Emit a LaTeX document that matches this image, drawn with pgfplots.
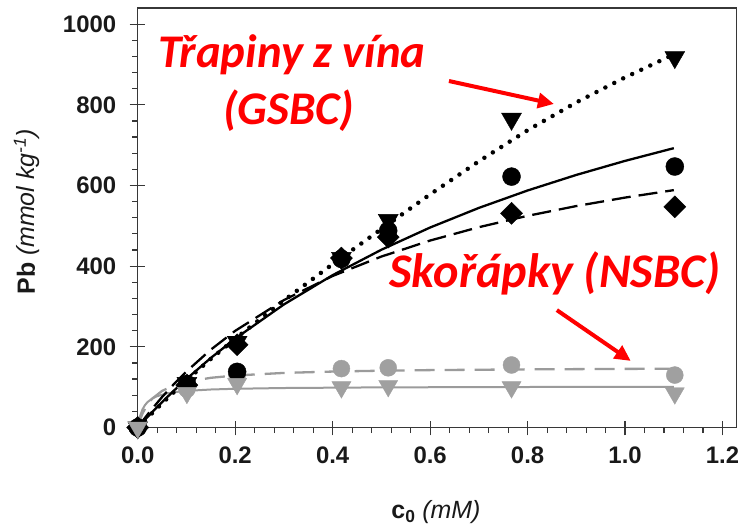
\documentclass[border=0pt]{standalone}
\usepackage{fontspec}
\setmainfont{Liberation Sans}
\newfontfamily\carlito{Carlito}
\usepackage{pgfplots}
\pgfplotsset{compat=1.18}
\usetikzlibrary{arrows.meta}
\definecolor{myred}{RGB}{255,0,0}
\definecolor{mygray}{RGB}{160,160,160}
\definecolor{linegray}{RGB}{155,155,155}
\definecolor{axisgray}{RGB}{55,55,55}
\begin{document}
\begin{tikzpicture}
\begin{axis}[
  name=ax,
  scale only axis, width=599bp, height=419.5bp,
  xmin=0, xmax=1.229, ymin=0, ymax=1040,
  clip=false,
  axis line style={axisgray, line width=1.3bp},
  xtick={0,0.2,0.4,0.6,0.8,1.0,1.2},
  xticklabels={0.0,0.2,0.4,0.6,0.8,1.0,1.2},
  ytick={0,200,400,600,800,1000},
  minor tick num=4,
  xtick pos=bottom, ytick pos=left,
  tick align=outside,
  major tick length=8bp, minor tick length=5.5bp,
  every tick/.style={axisgray, line width=1.2bp},
  extra x ticks={0,0.2,0.4,0.6,0.8,1.0,1.2},
  extra x tick labels={},
  extra x tick style={tick align=inside, major tick length=7bp},
  extra y ticks={0,200,400,600,800,1000},
  extra y tick labels={},
  extra y tick style={tick align=inside, major tick length=7bp},
  /pgf/number format/assume math mode=true,
  /pgf/number format/1000 sep={},
  tick label style={font=\bfseries\fontsize{24}{24}\selectfont, text=black!90},
  xticklabel style={yshift=-8bp},
  yticklabel style={xshift=-10bp},
  xlabel={\textbf{c}\textsubscript{\textbf{0}} \textit{(mM)}},
  xlabel style={at={(axis description cs:0.498,-0.218)}, anchor=base, font=\fontsize{25}{25}\selectfont, text=black!90},
  ylabel={\textbf{Pb} \textit{(mmol kg\textsuperscript{-1})}},
  ylabel style={at={(axis description cs:-0.185,0.514)}, anchor=center, font=\fontsize{25}{25}\selectfont, text=black!90},
]
% grey dashed curve (NSBC)
\addplot[linegray, line width=2.3bp, dash pattern=on 20bp off 10bp] coordinates {
(0,0) (0.005,19.9) (0.01,35.1) (0.02,56.9) (0.03,71.8) (0.05,90.7) (0.075,104.5)
(0.1,113.1) (0.15,123.2) (0.2,128.9) (0.3,135.3) (0.4,138.7) (0.5,140.8)
(0.6,142.3) (0.8,144.1) (1.0,145.3) (1.1,145.7)};
% grey solid curve (NSBC)
\addplot[linegray, line width=2bp] coordinates {
(0,0) (0.0025,17.0) (0.005,29.1) (0.01,45.3) (0.015,55.6) (0.02,62.8) (0.03,72.0)
(0.04,77.7) (0.06,84.4) (0.08,88.2) (0.1,90.7) (0.15,94.2) (0.2,96.0) (0.3,97.9)
(0.5,99.5) (0.8,100.4) (1.1,100.9)};
% black solid curve
\addplot[black, line width=2.3bp] coordinates {
(0,0) (0.01,13.1) (0.025,32.2) (0.05,63.0) (0.075,92.2) (0.1,120.2) (0.15,172.4)
(0.2,220.3) (0.3,305.1) (0.4,377.7) (0.5,440.7) (0.6,495.8) (0.7,544.4)
(0.8,587.6) (0.9,626.2) (1.0,661.0) (1.1,692.5)};
% black dashed curve
\addplot[black, line width=2.3bp, dash pattern=on 19bp off 8bp] coordinates {
(0,0) (0.01,16.2) (0.025,39.5) (0.05,75.5) (0.075,108.5) (0.1,138.9) (0.15,193.0)
(0.2,239.6) (0.3,315.9) (0.4,375.7) (0.5,423.8) (0.6,463.5) (0.7,496.6)
(0.8,524.8) (0.9,549.0) (1.0,570.0) (1.1,588.5)};
% black dotted curve
\addplot[black, line width=4.5bp, line cap=round, dash pattern=on 0bp off 10bp] coordinates {
(0,0) (0.025,30) (0.05,60) (0.1,117) (0.15,170) (0.2,220) (0.3,315) (0.4,405)
(0.5,492) (0.6,578) (0.7,660) (0.8,737) (0.9,806) (1.0,868) (1.1,925)};
% grey circles
\addplot[only marks, mark=*, mark size=8.5bp, draw=mygray, fill=mygray] coordinates {
(0,0) (0.101,95) (0.204,128) (0.418,146) (0.514,148) (0.767,155) (1.102,130)};
% black circles
\addplot[only marks, mark=*, mark size=9bp, draw=black, fill=black] coordinates {
(0,0) (0.101,108) (0.204,138) (0.418,418) (0.514,488) (0.767,622) (1.102,647)};
% black diamonds
\addplot[only marks, mark=square*, mark size=7.8bp, draw=black, fill=black, mark options={rotate=45}] coordinates {
(0,0) (0.101,105) (0.204,205) (0.418,420) (0.514,472) (0.767,531) (1.102,547)};
% black triangles
\addplot[only marks, mark=triangle*, mark size=11.5bp, draw=black, fill=black, mark options={rotate=180}] coordinates {
(0,0) (0.101,110) (0.204,212) (0.418,420) (0.514,514) (0.767,765) (1.102,918)};
% grey triangles
\addplot[only marks, mark=triangle*, mark size=11bp, draw=mygray, fill=mygray, mark options={rotate=180}] coordinates {
(0,0) (0.101,86) (0.204,108) (0.418,100) (0.514,103) (0.767,100) (1.102,85)};
% annotations
\node[anchor=base, text=myred, font=\carlito\bfseries\itshape\fontsize{47}{47}\selectfont] at (axis cs:0.3165,893) {Třapiny z vína};
\node[anchor=base, text=myred, font=\carlito\bfseries\itshape\fontsize{47}{47}\selectfont] at (axis cs:0.310,750) {(GSBC)};
\node[anchor=base, text=myred, font=\carlito\bfseries\itshape\fontsize{48.5}{48.5}\selectfont] at (axis cs:0.856,348) {Skořápky (NSBC)};
\draw[myred, line width=4bp, -{Triangle[length=16bp,width=15bp]}] (axis cs:0.6386,859) -- (axis cs:0.854,802);
\draw[myred, line width=4bp, -{Triangle[length=16bp,width=15bp]}] (axis cs:0.860,291) -- (axis cs:1.0117,165);
\end{axis}
\pgfresetboundingbox
\path[use as bounding box] (ax.south west) ++(-137.7bp,-103.5bp) rectangle ++(738bp,531bp);
\end{tikzpicture}
\end{document}
